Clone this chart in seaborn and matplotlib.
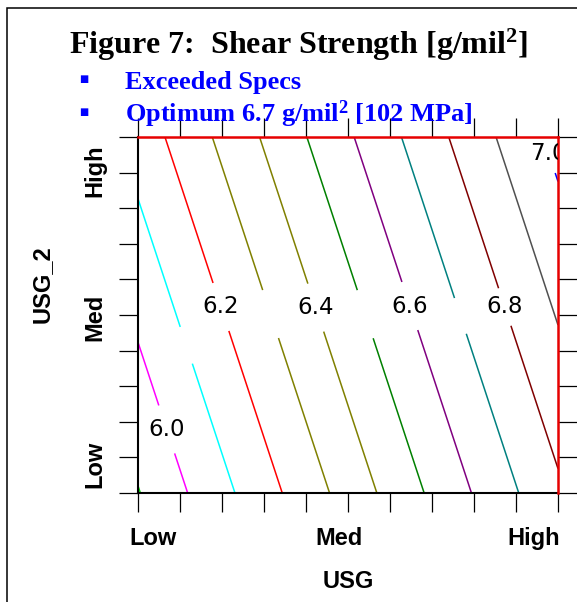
import numpy as np
import matplotlib
matplotlib.use("Agg")
import matplotlib.pyplot as plt
import seaborn as sns
from matplotlib.transforms import ScaledTranslation
from matplotlib.patches import Rectangle
from matplotlib.font_manager import FontProperties

# ---------------- data ----------------
usg_coded = [-1.0, 0.0, 1.0]      # USG: Low, Med, High
usg2_coded = [-1.0, 0.0, 1.0]     # USG_2: Low, Med, High
# shear strength [g/mil^2]; rows = USG_2 Low/Med/High, cols = USG Low/Med/High
shear_low = [5.895, 6.339, 6.783]
shear_med = [6.019, 6.463, 6.907]
shear_high = [6.143, 6.587, 7.031]

contour_levels = [5.9, 6.0, 6.1, 6.2, 6.3, 6.4, 6.5, 6.6, 6.7, 6.8, 6.9, 7.0]
contour_colors = ['#00dd00', '#ff00ff', '#00ffff', '#ff0000', '#808000', '#808000',
                  '#008000', '#800080', '#008080', '#800000', '#505050', '#0000ff']

labelled_levels = [6.0, 6.2, 6.4, 6.6, 6.8, 7.0]
label_positions = [(-0.843, -0.635), (-0.590, 0.051), (-0.129, 0.051),
                   (0.324, 0.062), (0.762, 0.051), (0.952, 0.904)]
gap_levels = [6.1, 6.3, 6.5, 6.7]
gap_positions = [(-0.767, -0.169), (-0.367, 0.006), (0.086, 0.006), (0.533, -0.006)]

tick_values = [-1.0, -0.8, -0.6, -0.4, -0.2, 0.0, 0.2, 0.4, 0.6, 0.8, 1.0]
x_tick_labels = ["Low", "", "", "", "", "Med", "", "", "", "", "High"]
y_tick_labels = ["Low", "", "", "", "", "Med", "", "", "", "", "High"]

title_text = r"Figure 7:  Shear Strength [g/mil$^{2}$]"
note_lines = ["Exceeded Specs", r"Optimum 6.7 g/mil$^{2}$ [102 MPa]"]

# ---------------- styling ----------------
sns.set_theme(style="white")
plt.rcParams['font.family'] = ['DejaVu Sans']
plt.rcParams['text.color'] = 'black'
plt.rcParams['axes.labelcolor'] = 'black'
plt.rcParams['xtick.color'] = 'black'
plt.rcParams['ytick.color'] = 'black'
plt.rcParams['mathtext.fontset'] = 'custom'
plt.rcParams['mathtext.rm'] = 'Liberation Serif:bold'
plt.rcParams['mathtext.bf'] = 'Liberation Serif:bold'
plt.rcParams['mathtext.it'] = 'Liberation Serif:bold'

W, H, DPI = 577, 602, 100
fig = plt.figure(figsize=(W / DPI, H / DPI), dpi=DPI, facecolor='white')

ax = fig.add_axes([138 / W, 1 - 493 / H, 420 / W, 356 / H])
ax.set_facecolor('white')
ax.set_xlim(-1, 1)
ax.set_ylim(-1, 1)

Z = np.array([shear_low, shear_med, shear_high])
cs = ax.contour(usg_coded, usg2_coded, Z, levels=contour_levels,
                colors=contour_colors, linewidths=1.1)

# labels (with inline gaps) on labelled levels; invisible gaps on the others
gap_spacing = {6.0: 7, 6.2: 7, 6.4: 7, 6.6: 7, 6.8: 1.5, 7.0: 2,
               6.1: 1, 6.3: 7, 6.5: 7, 6.7: 0.5}
entries = [(lev, pos, True) for lev, pos in zip(labelled_levels, label_positions)] + \
          [(lev, pos, False) for lev, pos in zip(gap_levels, gap_positions)]
for lev, pos, visible in entries:
    cs.clabel(inline=True, inline_spacing=gap_spacing[lev], fmt='%1.1f',
              fontsize=16.5, manual=[pos])
    t = cs.labelTexts[-1]
    t.set_rotation(0)
    t.set_color('black')
    t.set_visible(visible)

# spines
for side in ['left', 'bottom']:
    ax.spines[side].set_color('black')
    ax.spines[side].set_linewidth(1.5)
for side in ['top', 'right']:
    ax.spines[side].set_color('#e60000')
    ax.spines[side].set_linewidth(1.8)
    ax.spines[side].set_zorder(3)

# ticks
ax.set_xticks(tick_values, x_tick_labels)
ax.set_yticks(tick_values, y_tick_labels)
ax.tick_params(axis='both', which='both', direction='out', length=13.7, width=0.9,
               color='black', labelcolor='black', top=True, right=True, bottom=True,
               left=True, labeltop=False, labelright=False)
ax.tick_params(axis='x', pad=11)
ax.tick_params(axis='y', pad=9)

tick_font = dict(family='Liberation Sans', weight='bold', size=17)
x_offsets = [15] + [0] * 4 + [-9] + [0] * 4 + [-24]
for lbl, dx in zip(ax.get_xticklabels(), x_offsets):
    lbl.set_fontproperties(FontProperties(**tick_font))
    lbl.set_color('black')
    lbl.set_ha('center')
    lbl.set_transform(lbl.get_transform() + ScaledTranslation(dx / DPI, 0, fig.dpi_scale_trans))
y_offsets = [29] + [0] * 4 + [-2] + [0] * 4 + [-34]
for lbl, dy in zip(ax.get_yticklabels(), y_offsets):
    lbl.set_fontproperties(FontProperties(**tick_font))
    lbl.set_color('black')
    lbl.set_rotation(90)
    lbl.set_va('center')
    lbl.set_ha('right')
    lbl.set_transform(lbl.get_transform() + ScaledTranslation(0, dy / DPI, fig.dpi_scale_trans))

ax.set_xlabel('USG', fontfamily='Liberation Sans', fontweight='bold', fontsize=17,
              color='black')
ax.xaxis.set_label_coords(0.5, -0.215)
ax.set_ylabel('USG_2', fontfamily='Liberation Sans', fontweight='bold', fontsize=17,
              color='black')
ax.yaxis.label.set_va('center')
ax.yaxis.set_label_coords(-0.229, 0.587)

# title and notes
fig.text(298 / W, 1 - 54 / H, title_text, ha='center', va='baseline',
         fontfamily='Liberation Serif', fontweight='bold', fontsize=23, color='black')
note_baselines = [89, 122]
for txt, yb in zip(note_lines, note_baselines):
    fig.text(84 / W, 1 - (yb - 10) / H, '\u25a0', ha='center', va='center',
             fontfamily='DejaVu Sans', fontsize=7, color='#0000ff')
    fig.text(125 / W, 1 - yb / H, txt, ha='left', va='baseline',
             fontfamily='Liberation Serif', fontweight='bold', fontsize=19, color='#0000ff')

# outer frame
fig.add_artist(Rectangle((7 / W, -0.5), 2.0, (1 - 8 / H) + 0.5, transform=fig.transFigure,
                         fill=False, edgecolor='black', linewidth=1.1, clip_on=False))

fig.savefig('out.png', dpi=DPI, facecolor='white')
